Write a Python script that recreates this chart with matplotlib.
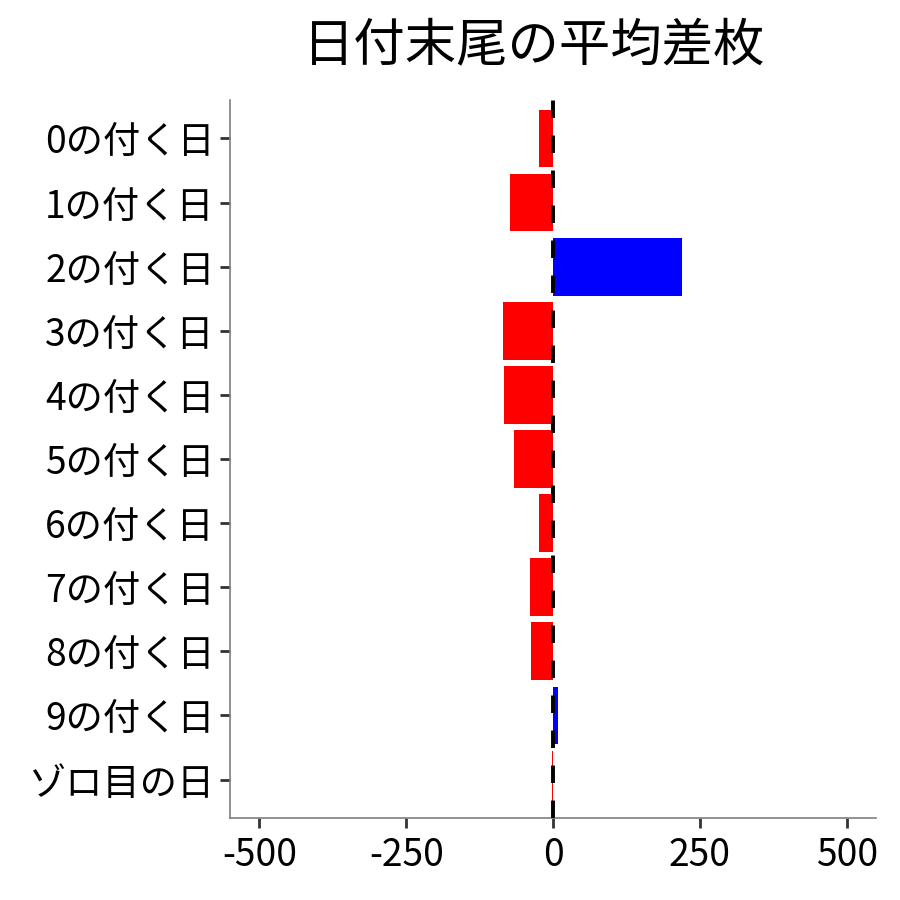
import numpy as np
import matplotlib
matplotlib.use('Agg')
import matplotlib.pyplot as plt

plt.rcParams['font.family'] = ['Noto Sans CJK JP', 'DejaVu Sans']
plt.rcParams['axes.unicode_minus'] = False

# data (top to bottom)
categories = ['0の付く日', '1の付く日', '2の付く日', '3の付く日', '4の付く日',
              '5の付く日', '6の付く日', '7の付く日', '8の付く日', '9の付く日',
              'ゾロ目の日']
diffs = [-24, -74, 220, -86, -83, -67, -24, -40, -37, 8, -2]
xticks = [-500, -250, 0, 250, 500]

colors = ['blue' if v > 0 else 'red' for v in diffs]
ypos = np.arange(len(categories))[::-1] + 1

fig = plt.figure(figsize=(9, 9), dpi=100)
ax = fig.add_axes([0.2556, 0.0911, 0.7177, 0.7978])

ax.barh(ypos, diffs, height=0.9, color=colors, zorder=2)
ax.axvline(0, color='black', lw=2.8, linestyle=(0, (4.5, 4.5)), zorder=3)

ax.set_xlim(-550, 550)
ax.set_ylim(0.4, len(categories) + 0.6)
ax.set_xticks(xticks)
ax.set_xticklabels([str(v) for v in xticks])
ax.set_yticks(ypos)
ax.set_yticklabels(categories)

for s in ['top', 'right']:
    ax.spines[s].set_visible(False)
for s in ['left', 'bottom']:
    ax.spines[s].set_color('#7f7f7f')
    ax.spines[s].set_linewidth(1.2)

ax.tick_params(axis='both', length=7, width=2, color='#333333',
               labelsize=26.8, labelcolor='black', pad=4)
ax.tick_params(axis='x', pad=6)

fig.suptitle('日付末尾の平均差枚', fontsize=37, x=0.593, y=0.978)

fig.savefig('out.png', dpi=100)
